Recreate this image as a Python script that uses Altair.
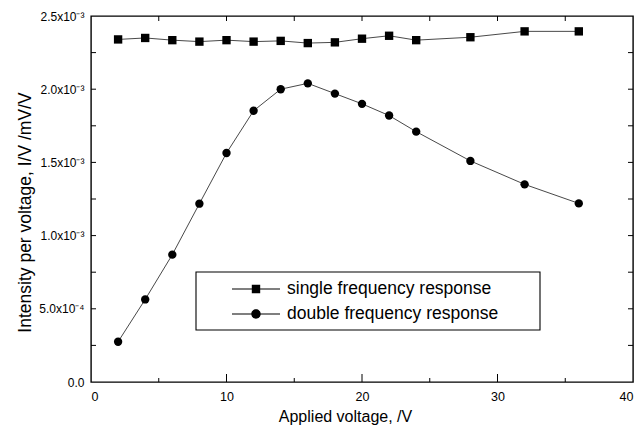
import altair as alt
import pandas as pd

# ---- data ----
voltage = [2, 4, 6, 8, 10, 12, 14, 16, 18, 20, 22, 24, 28, 32, 36]
single_freq = [2.34e-3, 2.35e-3, 2.335e-3, 2.325e-3, 2.335e-3, 2.325e-3, 2.33e-3, 2.315e-3,
               2.32e-3, 2.345e-3, 2.365e-3, 2.335e-3, 2.355e-3, 2.395e-3, 2.395e-3]
double_freq = [0.275e-3, 0.564e-3, 0.87e-3, 1.218e-3, 1.564e-3, 1.853e-3, 2.0e-3, 2.04e-3,
               1.97e-3, 1.90e-3, 1.82e-3, 1.71e-3, 1.51e-3, 1.35e-3, 1.22e-3]
series_names = ["single frequency response", "double frequency response"]

x_major = [0, 10, 20, 30, 40]
x_minor = [5, 15, 25, 35]
y_tick_values = [0, 0.0005, 0.001, 0.0015, 0.002, 0.0025]
y_tick_labels = ["0.0", "5.0x10⁻⁴", "1.0x10⁻³", "1.5x10⁻³", "2.0x10⁻³", "2.5x10⁻³"]
y_minor = [0.00025, 0.00075, 0.00125, 0.00175, 0.00225]

FONT = "Liberation Sans"
W, H = 542, 366

df = pd.DataFrame({
    "v": voltage * 2,
    "val": single_freq + double_freq,
    "series": [series_names[0]] * len(voltage) + [series_names[1]] * len(voltage),
})

xs = alt.Scale(domain=[0, 40], nice=False, zero=False)
ys = alt.Scale(domain=[0, 0.0025], nice=False)

label_js = "[" + ",".join("'" + s + "'" for s in y_tick_labels) + "][round(datum.value/0.0005)]"

X = alt.X("v:Q", scale=xs,
          axis=alt.Axis(values=x_major, ticks=False, grid=False, domain=False,
                        labelFont=FONT, labelFontSize=12.5, labelPadding=8, labelColor="black",
                        title="Applied voltage, /V", titleFont=FONT, titleFontSize=16,
                        titleFontWeight="normal", titleColor="black",
                        titleX=254, titleY=39, titleBaseline="alphabetic", titleAlign="center"))
Y = alt.Y("val:Q", scale=ys,
          axis=alt.Axis(values=y_tick_values, labelExpr=label_js, ticks=False, grid=False,
                        domain=False, labelFont=FONT, labelFontSize=12, labelPadding=7,
                        labelColor="black",
                        title="Intensity per voltage, I/V /mV/V", titleFont=FONT,
                        titleFontSize=17.5, titleFontWeight="normal", titleColor="black",
                        titleX=-66, titleY=196, titleAngle=-90, titleBaseline="middle",
                        titleAlign="center"))

lines = alt.Chart(df).mark_line(stroke="#333333", strokeWidth=0.9).encode(
    x=X, y=Y, detail="series:N")

points = alt.Chart(df).mark_point(filled=True, color="black", opacity=1, size=70).encode(
    x=alt.X("v:Q", scale=xs), y=alt.Y("val:Q", scale=ys),
    shape=alt.Shape("series:N", scale=alt.Scale(domain=series_names, range=["square", "circle"]),
                    legend=None))

# legend key symbols: thin filled bars on both sides of a solid marker (all filled shapes)
bars = "M-2.4,-0.045H-0.42V0.045H-2.4ZM0.42,-0.045H2.4V0.045H0.42Z"
key_square = bars + "M-0.42,-0.42H0.42V0.42H-0.42Z"
key_circle = bars + "M-0.47,0A0.47,0.47 0 1,1 0.47,0A0.47,0.47 0 1,1 -0.47,0Z"

legend_layer = alt.Chart(df).mark_point(filled=True, color="black", opacity=1).encode(
    x=alt.X("v:Q", scale=xs), y=alt.Y("val:Q", scale=ys),
    shape=alt.Shape("series:N",
                    scale=alt.Scale(domain=series_names, range=[key_square, key_circle]),
                    legend=alt.Legend(title=None, orient="none", legendX=105, legendY=254,
                                      direction="vertical", padding=8,
                                      labelFont=FONT, labelFontSize=17.5,
                                      labelColor="black", labelLimit=0, symbolSize=400,
                                      symbolOffset=41, labelOffset=20, rowPadding=5,
                                      symbolFillColor="black", symbolOpacity=1))
).transform_filter("false")

# frame of the legend box
legend_frame = alt.Chart(pd.DataFrame({"k": [0]})).mark_rect(
    fill=None, stroke="black", strokeWidth=1.1
).encode(x=alt.value(105), x2=alt.value(449), y=alt.value(256), y2=alt.value(314))

# inward tick marks on all four sides
def tick_df(vals):
    return pd.DataFrame({"t": vals})

bx_major = alt.Chart(tick_df(x_major[1:-1])).mark_rule(color="black", strokeWidth=1).encode(
    x=alt.X("t:Q", scale=xs), y=alt.value(H), y2=alt.value(H - 8))
bx_minor = alt.Chart(tick_df(x_minor)).mark_rule(color="black", strokeWidth=1).encode(
    x=alt.X("t:Q", scale=xs), y=alt.value(H), y2=alt.value(H - 4))
tx = alt.Chart(tick_df(x_major[1:-1] + x_minor)).mark_rule(color="black", strokeWidth=1).encode(
    x=alt.X("t:Q", scale=xs), y=alt.value(0), y2=alt.value(5))
ly = alt.Chart(tick_df(y_tick_values[1:-1] + y_minor)).mark_rule(color="black", strokeWidth=1).encode(
    y=alt.Y("t:Q", scale=ys), x=alt.value(0), x2=alt.value(5))
ry = alt.Chart(tick_df(y_tick_values[1:-1] + y_minor)).mark_rule(color="black", strokeWidth=1).encode(
    y=alt.Y("t:Q", scale=ys), x=alt.value(W), x2=alt.value(W - 5))

chart = alt.layer(lines, points, legend_layer, legend_frame,
                  bx_major, bx_minor, tx, ly, ry).resolve_scale(
    shape="independent"
).properties(
    width=W, height=H,
    autosize=alt.AutoSizeParams(type="none"),
    padding={"left": 91, "top": 16, "right": 8, "bottom": 53},
    background="white",
).configure_view(stroke="black", strokeWidth=1.4)

chart.save("out.html", embed_options={"renderer": "svg", "actions": False})
